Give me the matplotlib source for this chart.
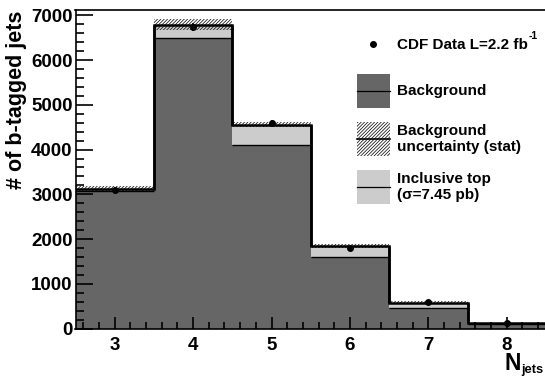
import matplotlib
matplotlib.use("Agg")
import matplotlib.pyplot as plt
import numpy as np
from matplotlib.patches import Rectangle
from matplotlib.lines import Line2D
from matplotlib.ticker import MultipleLocator

plt.rcParams["font.family"] = ["Liberation Sans", "DejaVu Sans"]
plt.rcParams["font.weight"] = "bold"
plt.rcParams["hatch.linewidth"] = 0.55

# values
n_jets = [3, 4, 5, 6, 7, 8]
background = [3080, 6500, 4110, 1605, 455, 100]
inclusive_top = [45, 290, 450, 235, 125, 20]
bkg_uncert = [50, 120, 55, 45, 35, 10]
data_counts = [3100, 6740, 4600, 1790, 600, 112]
data_errors = [56, 82, 68, 42, 25, 11]

W, H = 545, 377
HATCH = "//////////"


def fx(px):
    return px / W


def fy(py):
    return 1 - py / H


fig = plt.figure(figsize=(W / 100, H / 100), dpi=100)
ax = fig.add_axes([fx(75.5), fy(328.5), fx(546) - fx(75.5), fy(10) - fy(328.5)])

x = np.array(n_jets)
bkg = np.array(background)
total = bkg + np.array(inclusive_top)
unc = np.array(bkg_uncert)
edges = np.append(x - 0.5, x[-1] + 0.5)

ax.bar(x, bkg, width=1.0, color="#666666", linewidth=0)
ax.bar(x, inclusive_top, width=1.0, bottom=bkg, color="#cccccc", linewidth=0)
ax.bar(x, 2 * unc, width=1.0, bottom=total - unc, facecolor="none",
       edgecolor="#111111", hatch=HATCH, linewidth=0)
ax.hlines(bkg, x - 0.5, x + 0.5, color="black", lw=1.0)
ax.stairs(total, edges, color="black", lw=1.8, baseline=None)
ax.vlines(edges[1:-1], np.minimum(total[:-1], total[1:]),
          np.maximum(total[:-1], total[1:]), color="black", lw=1.8)
ax.errorbar(x, data_counts, yerr=data_errors, fmt="o", color="black",
            ms=4, elinewidth=1.2, capsize=0)

ax.set_xlim(2.5, 8.5)
ax.set_ylim(0, 7120)
ax.xaxis.set_major_locator(MultipleLocator(1))
ax.xaxis.set_minor_locator(MultipleLocator(0.2))
ax.yaxis.set_major_locator(MultipleLocator(1000))
ax.yaxis.set_minor_locator(MultipleLocator(200))
ax.tick_params(which="both", direction="in", top=False, right=False,
               labelsize=13.5, width=1.2)
ax.tick_params(which="major", length=12)
ax.tick_params(which="minor", length=6)
ax.tick_params(axis="y", pad=2)
ax.tick_params(axis="x", which="major", length=9, pad=6)
ax.tick_params(axis="x", which="minor", length=5)
for s in ax.spines.values():
    s.set_linewidth(1.2)
ax.spines["right"].set_visible(False)

fig.text(fx(16.5), fy(11), "# of b-tagged jets", rotation=90, ha="center",
         va="top", fontsize=15.5, fontweight="bold")
fig.text(fx(521), fy(369.5), "N", ha="right", va="baseline",
         fontsize=16.5, fontweight="bold")
fig.text(fx(521), fy(373.5), "jets", ha="left", va="baseline",
         fontsize=9.3, fontweight="bold")

# legend
fig.add_artist(Line2D([fx(373)], [fy(44)], marker="o", color="black", ms=4,
                      transform=fig.transFigure))
t = fig.text(fx(397), fy(45), "CDF Data L=2.2 fb", va="center",
             fontsize=11, fontweight="bold")
bb = t.get_window_extent(renderer=fig.canvas.get_renderer())
fig.text(bb.x1 / fig.bbox.width + fx(0.5), fy(41), "-1", va="bottom",
         fontsize=7.5, fontweight="bold")

boxes = [
    (74, "#666666", None, "Background"),
    (122, "white", HATCH, "Background\nuncertainty (stat)"),
    (170, "#cccccc", None, "Inclusive top\n(\u03c3=7.45 pb)"),
]
for top, col, hatch, label in boxes:
    fig.add_artist(Rectangle((fx(357), fy(top + 33.5)), fx(33), fy(0) - fy(33.5),
                             facecolor=col, edgecolor="#111111" if hatch else "none",
                             hatch=hatch, lw=0, transform=fig.transFigure))
    fig.add_artist(Line2D([fx(357), fx(390)], [fy(top + 16.7)] * 2, color="black",
                          lw=1.2 if hatch else 0.9, transform=fig.transFigure))
    fig.text(fx(397), fy(top + 17), label, va="center", fontsize=11,
             fontweight="bold", linespacing=1.2)

fig.savefig("out.png", dpi=100)
